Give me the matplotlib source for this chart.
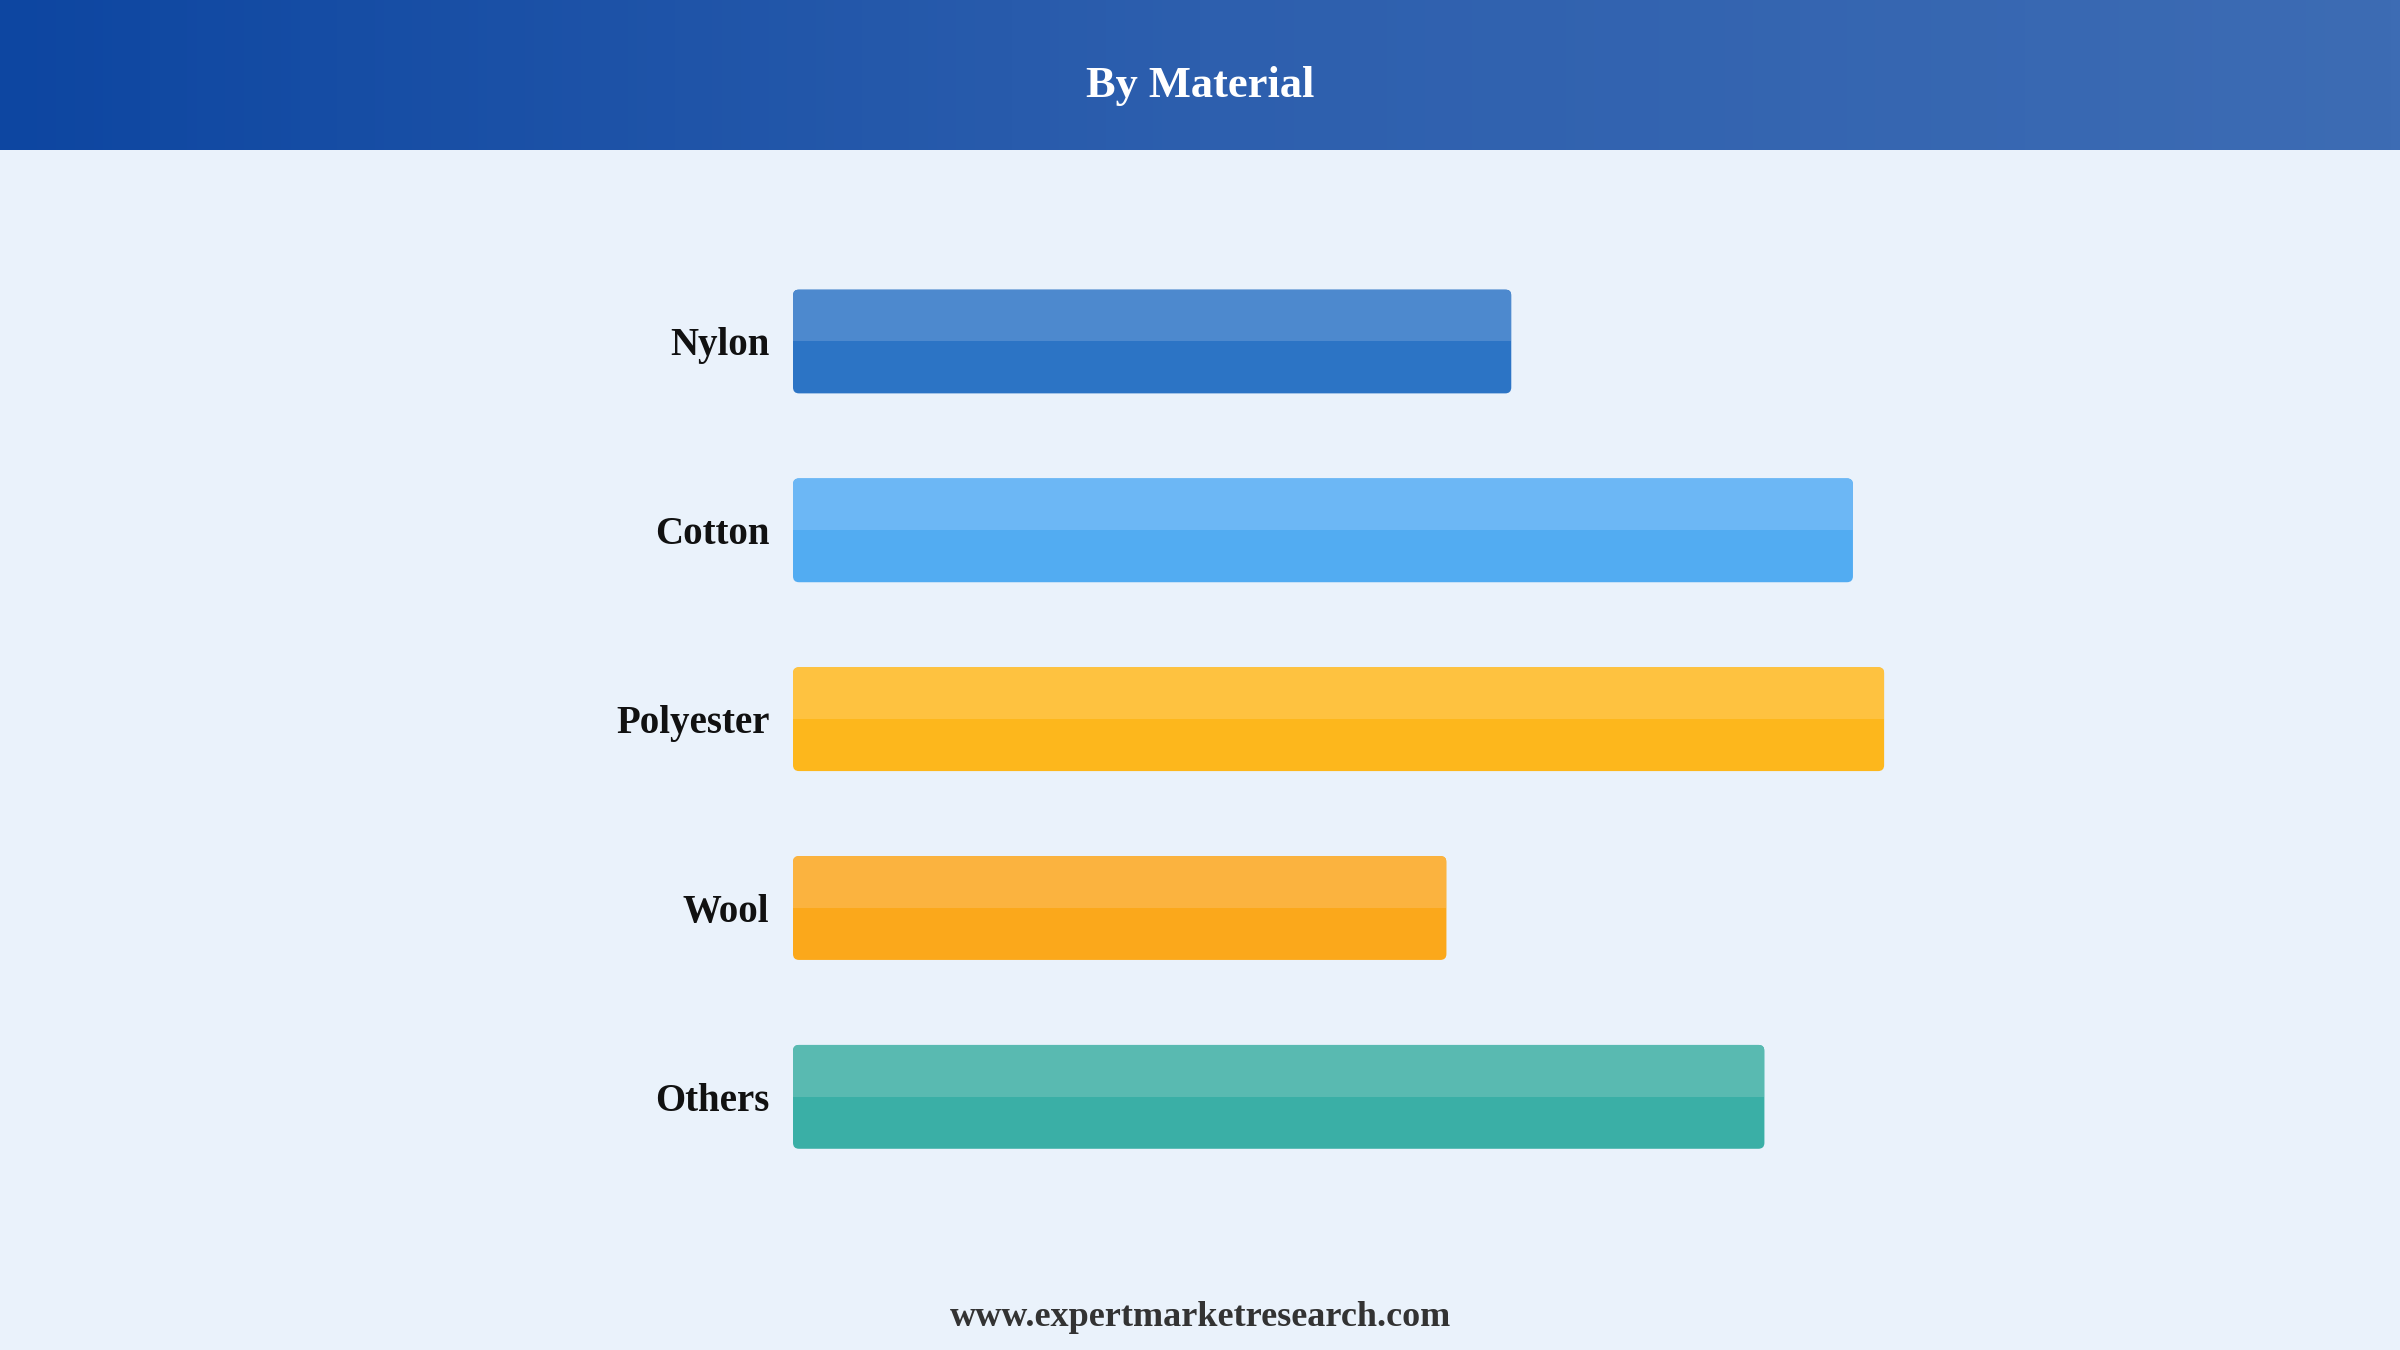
import numpy as np
import matplotlib.pyplot as plt
from matplotlib.colors import LinearSegmentedColormap
from matplotlib.patches import FancyBboxPatch

# data
materials = ['Nylon', 'Cotton', 'Polyester', 'Wool', 'Others']
values = [57.6, 85.0, 87.5, 52.4, 77.9]
dark_colors = ['#2C74C5', '#52ACF2', '#FDB71C', '#FBA81B', '#3AAFA6']
light_colors = ['#4D89CE', '#6CB7F5', '#FEC240', '#FBB33F', '#59BAB1']

bg = '#EAF2FB'
fig = plt.figure(figsize=(24, 13.5), dpi=100)
fig.patch.set_facecolor(bg)

## header band with gradient
hdr = fig.add_axes([0, 1 - 150 / 1350, 1, 150 / 1350])
grad = LinearSegmentedColormap.from_list('hdr', ['#0D46A1', '#2D5FAE', '#3D6CB4'])
hdr.imshow(np.linspace(0, 1, 256).reshape(1, -1), cmap=grad, aspect='auto',
           extent=[0, 1, 0, 1])
hdr.set_axis_off()
hdr.text(0.5, 0.43, 'By Material', color='white', fontsize=32, fontweight='bold',
         family='Liberation Serif', ha='center', va='center')

## bar chart
ax = fig.add_axes([793 / 2400, 0.0896, 0.85 - 793 / 2400, 0.845 - 0.0896])
ax.set_facecolor(bg)
pos = np.arange(len(materials))
h = 0.55
bars = ax.barh(pos, values, height=h, color=dark_colors)
ax.set_xlim(0, 100)
ax.set_ylim(4.7, -0.7)

x_px = ax.get_position().width * 2400 / 100
y_px = ax.get_position().height * 1350 / 5.4
r = 6 / x_px
for bar, dc, lc in zip(bars, dark_colors, light_colors):
    bar.set_visible(False)
    rb = FancyBboxPatch((bar.get_x(), bar.get_y()), bar.get_width(), bar.get_height(),
                        boxstyle=f'round,pad=0,rounding_size={r}',
                        mutation_aspect=(6 / y_px) / r,
                        facecolor=dc, edgecolor='none')
    ax.add_patch(rb)
    top = ax.barh(bar.get_y() + bar.get_height() / 4, bar.get_width(),
                  height=bar.get_height() / 2, color=lc)
    top[0].set_clip_path(rb)

ax.set_yticks(pos)
ax.set_yticklabels(materials, fontsize=28, fontweight='bold',
                   family='Liberation Serif', color='#111111')
ax.tick_params(axis='y', length=0, pad=17)
ax.set_xticks([])
for s in ax.spines.values():
    s.set_visible(False)

fig.text(0.5, 1 - 1318 / 1350, 'www.expertmarketresearch.com', fontsize=26,
         fontweight='bold', family='Liberation Serif', color='#333333',
         ha='center', va='center')

fig.savefig('out.png', dpi=100, facecolor=bg)
